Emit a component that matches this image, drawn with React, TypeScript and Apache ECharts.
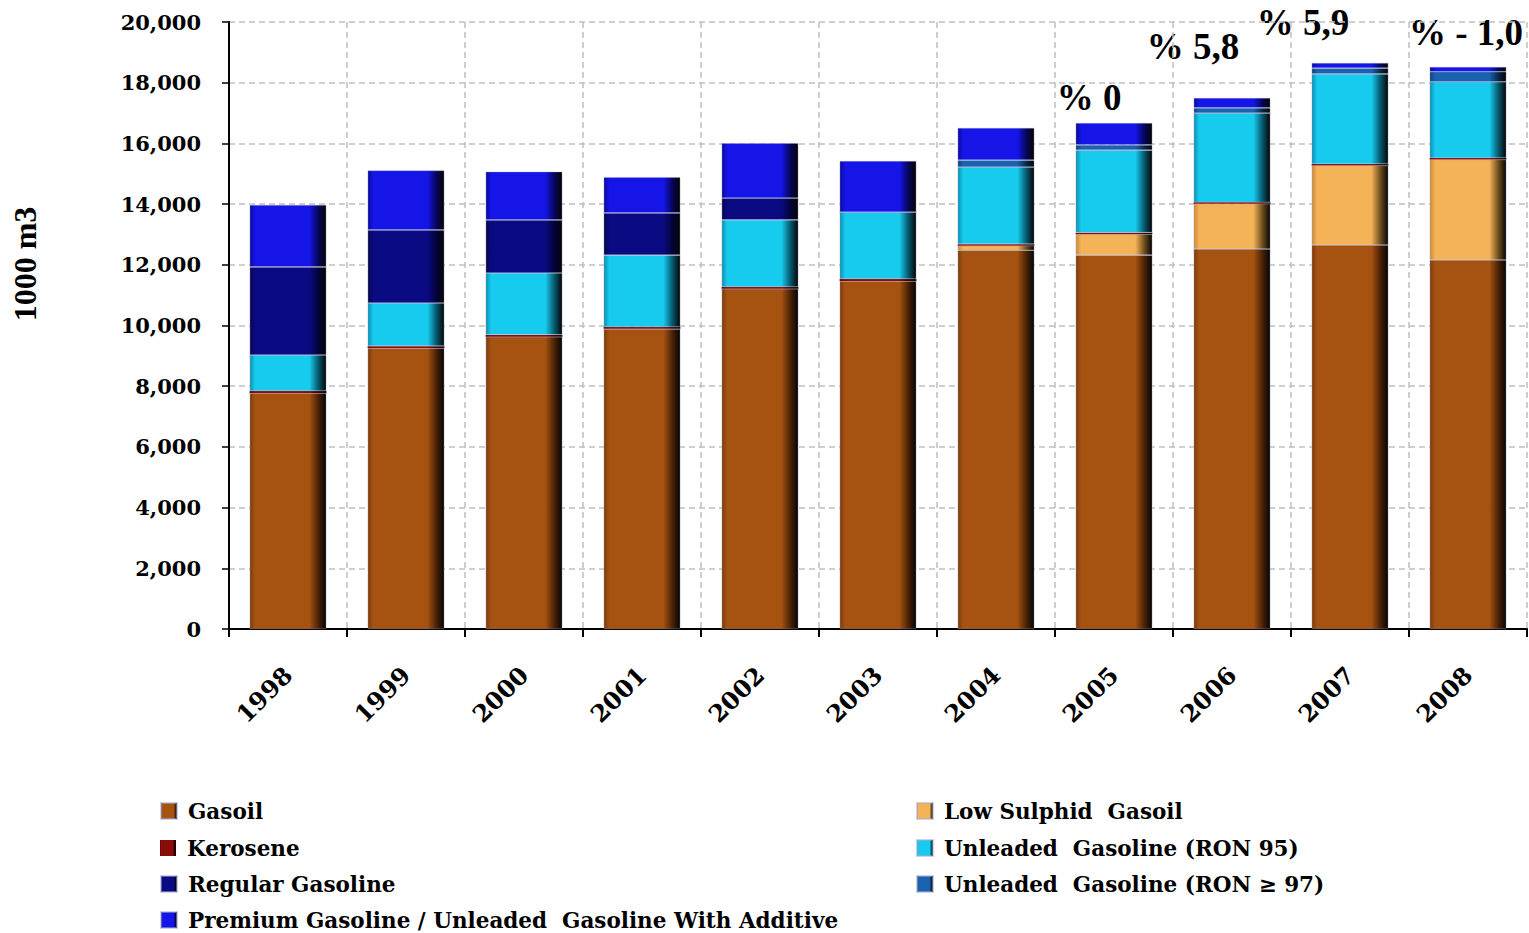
import React, { useEffect, useRef } from "react";
import * as echarts from "echarts";

const years = ["1998", "1999", "2000", "2001", "2002", "2003", "2004", "2005", "2006", "2007", "2008"];
const gasoil = [7780, 9260, 9630, 9890, 11210, 11470, 12480, 12320, 12520, 12650, 12160];
const lowSulphidGasoil = [0, 0, 0, 0, 0, 0, 150, 690, 1490, 2620, 3310];
const kerosene = [60, 60, 60, 60, 60, 60, 50, 50, 50, 50, 50];
const unleaded95 = [1190, 1420, 2040, 2370, 2210, 2210, 2540, 2720, 2940, 2970, 2510];
const regularGasoline = [2900, 2410, 1750, 1390, 720, 0, 0, 0, 0, 0, 0];
const unleaded97 = [0, 0, 0, 0, 0, 0, 230, 170, 170, 190, 330];
const premiumGasoline = [2040, 1960, 1590, 1180, 1810, 1680, 1060, 720, 330, 170, 160];

const annotations = [
  { text: "% 0", x: 1089, y: 97 },
  { text: "% 5,8", x: 1193, y: 46 },
  { text: "% 5,9", x: 1303, y: 22 },
  { text: "% - 1,0", x: 1466, y: 32 },
];

const SERIF = "'DejaVu Serif', serif";
const TIMES = "'Liberation Serif', 'Times New Roman', serif";

function bevel(edge: string, main: string, shadow: string) {
  return new echarts.graphic.LinearGradient(0, 0, 1, 0, [
    { offset: 0, color: edge },
    { offset: 0.07, color: main },
    { offset: 0.78, color: main },
    { offset: 0.9, color: shadow },
    { offset: 1, color: "#050505" },
  ]);
}

const seriesDefs = [
  { name: "Gasoil", data: gasoil, color: bevel("#7a3c0c", "#A65312", "#4a2206"), border: true },
  { name: "Low Sulphid  Gasoil", data: lowSulphidGasoil, color: bevel("#c98a3a", "#F5B358", "#6e4d1e"), border: true },
  { name: "Kerosene", data: kerosene, color: bevel("#6a0000", "#8B0a0a", "#3a0000"), border: false },
  { name: "Unleaded  Gasoline (RON 95)", data: unleaded95, color: bevel("#0e8fb0", "#17CBEE", "#06586e"), border: true },
  { name: "Regular Gasoline", data: regularGasoline, color: bevel("#05054a", "#0A0A82", "#03033a"), border: true },
  { name: "Unleaded  Gasoline (RON \u2265 97)", data: unleaded97, color: bevel("#10427a", "#1A62B0", "#082848"), border: true },
  { name: "Premium Gasoline / Unleaded  Gasoline With Additive", data: premiumGasoline, color: bevel("#0a0a9a", "#1515E8", "#06065a"), border: true },
];

// legend slot for each series: [column left, row center y]
const legendSlots: [number, number][] = [
  [155, 811],
  [911, 811],
  [155, 848],
  [911, 848],
  [155, 884],
  [911, 884],
  [155, 920],
];

export default function App() {
  const ref = useRef<HTMLDivElement>(null);
  useEffect(() => {
    if (!ref.current) return;
    const chart = echarts.init(ref.current, null, { renderer: "svg" });
    const legendText = {
      fontFamily: SERIF,
      fontWeight: "bold" as const,
      fontSize: 21.5,
      color: "#000",
      lineHeight: 24,
      padding: [0, 0, 0, 6],
    };
    chart.setOption({
      animation: false,
      backgroundColor: "#fff",
      grid: { left: 229, right: 2, top: 22, bottom: 304, containLabel: false },
      xAxis: {
        type: "category",
        data: years,
        boundaryGap: true,
        axisLine: { lineStyle: { color: "#000", width: 2 } },
        axisTick: { show: true, length: 8, lineStyle: { color: "#000", width: 2 } },
        axisLabel: {
          rotate: 45,
          margin: 42,
          fontFamily: SERIF,
          fontWeight: "bold",
          fontSize: 24,
          color: "#000",
        },
        splitLine: { show: true, lineStyle: { color: "#c0c0c0", type: [6, 4], width: 1.5 } },
      },
      yAxis: {
        type: "value",
        min: 0,
        max: 20000,
        interval: 2000,
        axisLine: { show: true, lineStyle: { color: "#000", width: 2 } },
        axisTick: { show: true, length: 7, lineStyle: { color: "#000", width: 1.5 } },
        axisLabel: {
          margin: 28,
          fontFamily: SERIF,
          fontWeight: "bold",
          fontSize: 21,
          color: "#000",
          formatter: (v: number) => v.toLocaleString("en-US"),
        },
        splitLine: { show: true, lineStyle: { color: "#c0c0c0", type: [6, 4], width: 1.5 } },
      },
      legend: seriesDefs.map((s, i) => ({
        orient: "horizontal",
        left: legendSlots[i][0],
        top: legendSlots[i][1] - 17,
        itemWidth: 16,
        itemHeight: 16,
        icon: "rect",
        textStyle: legendText,
        data: [s.name],
      })),
      series: seriesDefs.map((s) => ({
        name: s.name,
        type: "bar",
        stack: "total",
        barWidth: "65%",
        data: s.data,
        itemStyle: {
          color: s.color,
          borderColor: s.border ? "rgba(170,170,210,0.55)" : "rgba(0,0,0,0)",
          borderWidth: s.border ? 0.6 : 0,
        },
      })),
      graphic: [
        {
          type: "text",
          x: 25,
          y: 264,
          rotation: Math.PI / 2,
          style: {
            text: "1000 m3",
            font: `bold 32px ${TIMES}`,
            fill: "#000",
            textAlign: "center",
            textVerticalAlign: "middle",
          },
        },
        ...annotations.map((a) => ({
          type: "text",
          x: a.x,
          y: a.y,
          style: {
            text: a.text,
            font: `bold 37px ${TIMES}`,
            fill: "#000",
            textAlign: "center",
            textVerticalAlign: "middle",
          },
        })),
      ],
    });
    return () => chart.dispose();
  }, []);
  return (
    <div
      ref={ref}
      style={{ position: "fixed", left: 0, top: 0, width: 1529, height: 933 }}
    />
  );
}
